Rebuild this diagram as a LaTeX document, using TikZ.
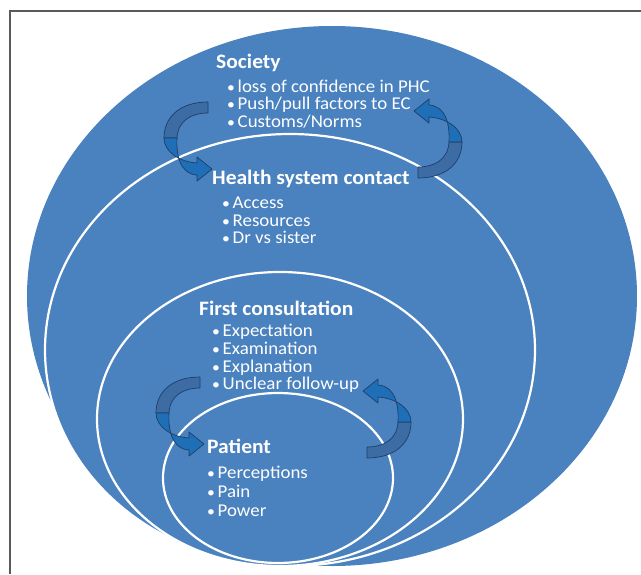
\documentclass[tikz,border=0pt]{standalone}
\usepackage{fontspec}
\setmainfont{Carlito}[FakeStretch=1.05]
\definecolor{ringblue}{HTML}{4A81BF}
\definecolor{arrowdark}{HTML}{3D6CA5}
\definecolor{arrowbright}{HTML}{1F6EB8}
\definecolor{arrowline}{HTML}{1E3E66}
\definecolor{framegray}{HTML}{5A5A5A}
\tikzset{
  ring/.style={fill=ringblue, draw=white, line width=2.2pt},
  arrowback/.style={fill=arrowdark, draw=arrowline, line width=0.7pt, line join=round},
  arrowfront/.style={fill=arrowbright, draw=arrowline, line width=0.7pt, line join=round},
  head/.style={anchor=base west, inner sep=0pt, text=white,
    font=\fontsize{20.5}{22}\selectfont\bfseries},
  item/.style={anchor=base west, inner sep=0pt, text=white,
    font=\fontsize{18}{20}\selectfont},
  pics/loop arrow/.style={code={
    % rear half of the ribbon, from the cut end round to the bend
    \filldraw[arrowback] (0,0) .. controls (-28,0) and (-44,15) .. (-44,36)
      -- (-31,36) .. controls (-30,18) and (-16,11) .. (0,11) -- cycle;
    % front half of the ribbon with its arrow head
    \filldraw[arrowfront] (-44,36) .. controls (-44,50) and (-28,60) .. (-11,61)
      -- (-11,55) -- (4,67) -- (-11,79) -- (-11,73)
      .. controls (-28,72) and (-32,53) .. (-31,36) -- cycle;
  }}
}
\newcommand{\bul}[1]{\makebox[10.5pt][l]{\fontsize{15}{15}\selectfont•}#1}
\begin{document}
\begin{tikzpicture}[x=1pt, y=-1pt]
\useasboundingbox (0,0) rectangle (641,574);
\fill[white] (0,0) rectangle (641,574);
% page frame
\draw[framegray, line width=1.3pt] (10,574) -- (10,11) -- (641,11);

% nested circles of influence
\fill[ringblue] (332,296) ellipse [x radius=305pt, y radius=270pt];
\draw[ring] (290,350) ellipse [x radius=245pt, y radius=216pt];
\draw[ring] (280,419) ellipse [x radius=183pt, y radius=147pt];
\draw[ring] (278,478) ellipse [x radius=115pt, y radius=85pt];

% circular arrows between the levels
\pic at (208,102) {loop arrow};
\pic[rotate=180] at (418,178) {loop arrow};
\pic at (200,377) {loop arrow};
\pic[rotate=180] at (367,458) {loop arrow};

% Society
\node[head] (soc) at (216,68) {Society};
\node[item] (soc1) at (227,92) {\bul{loss of confidence in PHC}};
\node[item] (soc2) at (227,109.5) {\bul{Push/pull factors to EC}};
\node[item] (soc3) at (227,127) {\bul{Customs/Norms}};

% Health system contact
\node[head] (hsc) at (212,184) {Health system contact};
\node[item] (hsc1) at (222,208) {\bul{Access}};
\node[item] (hsc2) at (222,226) {\bul{Resources}};
\node[item] (hsc3) at (222,243.5) {\bul{Dr vs sister}};

% First consultation
\node[head] (fc) at (199,315) {First consultation};
\node[item] (fc1) at (212,336) {\bul{Expectation}};
\node[item] (fc2) at (212,354) {\bul{Examination}};
\node[item] (fc3) at (212,372) {\bul{Explanation}};
\node[item] (fc4) at (212,389.5) {\bul{Unclear follow-up}};

% Patient
\node[head] (pat) at (207,453) {Patient};
\node[item] (pat1) at (207,478) {\bul{Perceptions}};
\node[item] (pat2) at (207,497) {\bul{Pain}};
\node[item] (pat3) at (207,516) {\bul{Power}};
\end{tikzpicture}
\end{document}
